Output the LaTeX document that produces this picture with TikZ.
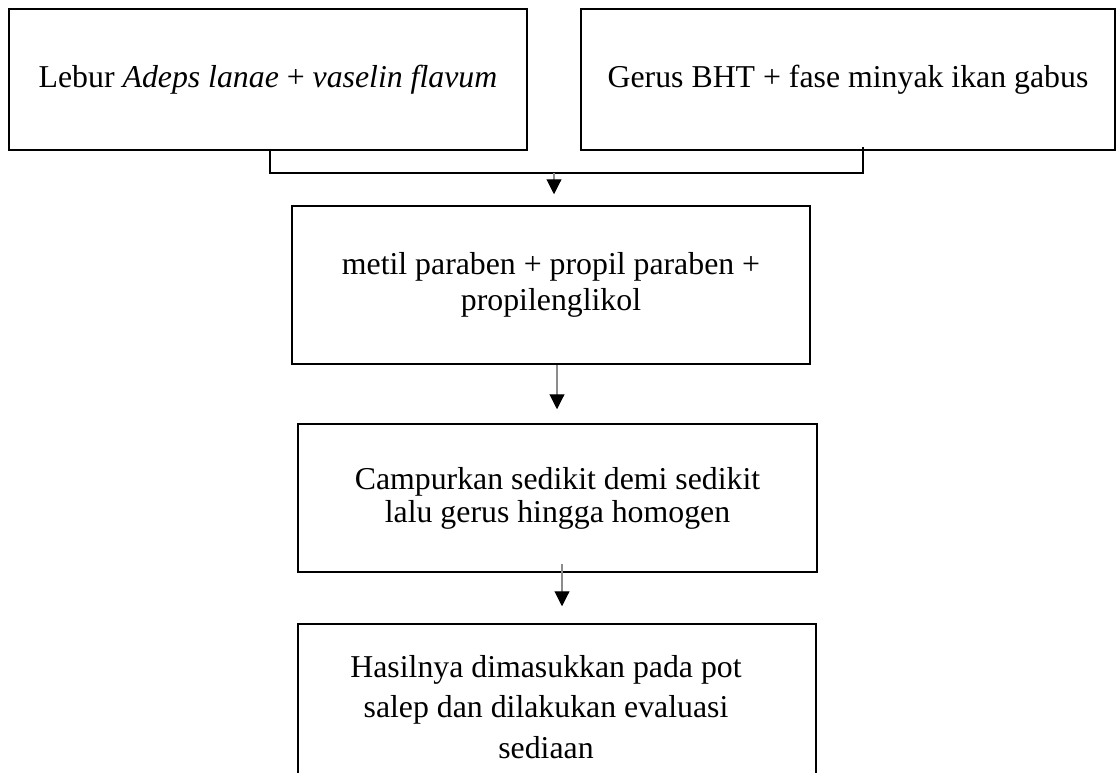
\documentclass[tikz,border=0pt]{standalone}
\usepackage{fontspec}
\setmainfont{Liberation Serif}
\usetikzlibrary{arrows.meta}

\begin{document}
\begin{tikzpicture}[x=1pt, y=-1pt,
  box/.style={draw=black, line width=1.5pt, inner sep=0pt, align=center,
              font=\fontsize{31.8}{36}\selectfont},
  txt/.style={inner sep=0pt, align=center, font=\fontsize{31.8}{40.5}\selectfont},
  joint/.style={draw=black, line width=1.1pt},
  arr/.style={draw=black!45, line width=1.1pt,
              -{Triangle[width=15pt, length=15pt, color=black]}}]

% page frame
\clip (0,0) rectangle (1116,773);

% first row: two starting steps
\node[box, minimum width=518pt, minimum height=141pt] (lebur) at (268,79.5)
  {Lebur \textit{Adeps lanae} + \textit{vaselin flavum}};
\node[box, minimum width=534pt, minimum height=141pt] (gerus) at (848,79.5)
  {Gerus BHT + fase minyak ikan gabus};

% preservatives
\node[box, minimum width=518pt, minimum height=158pt] (metil) at (551,285)
  {metil paraben + propil paraben +\\ propilenglikol};

% mixing
\node[box, minimum width=519pt, minimum height=148pt,
      font=\fontsize{31.8}{33}\selectfont] (campur) at (557.5,498)
  {Campurkan sedikit demi sedikit\\ lalu gerus hingga homogen};

% final step (box runs past the lower edge)
\node[box, minimum width=518pt, minimum height=200pt] (hasil) at (557,724) {};
\node[txt] (hasiltext) at (546,707)
  {Hasilnya dimasukkan pada pot\\ salep dan dilakukan evaluasi\\ sediaan};

% bracket joining the first two steps
\coordinate (jl) at (270,173);
\coordinate (jr) at (863,173);
\coordinate (jm) at (554,173);
\draw[joint] ([yshift=2pt]lebur.south -| jl) -- (jl) -- (jr)
  -- ([yshift=4pt]gerus.south -| jr);

% arrows down the chain
\coordinate (a2) at ([xshift=6pt]metil.south);
\coordinate (a3) at ([xshift=4.5pt, yshift=9pt]campur.south);
\draw[arr, shorten >=11pt] (jm) -- (jm |- metil.north);
\draw[arr, shorten >=14pt] (a2) -- (a2 |- campur.north);
\draw[arr, shorten >=17pt] (a3) -- (a3 |- hasil.north);
\end{tikzpicture}
\end{document}
